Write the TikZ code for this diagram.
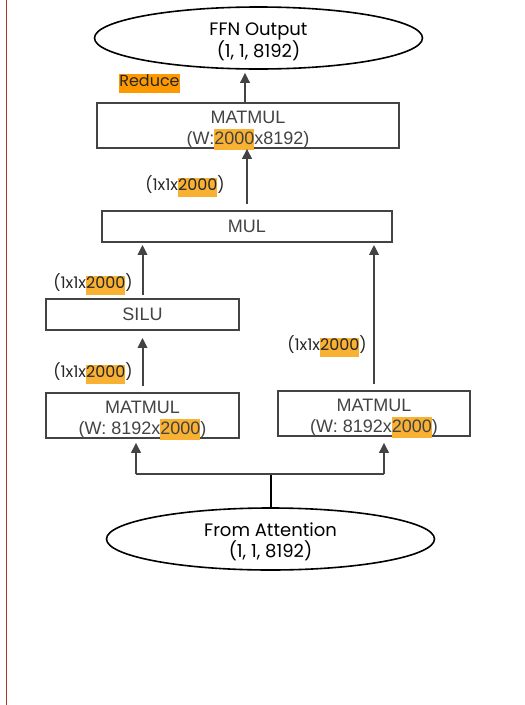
\documentclass[tikz,border=0pt]{standalone}
\usepackage{fontspec}
\setmainfont{Liberation Sans}
\newfontfamily\geofont{Poppins}
\usetikzlibrary{shapes.geometric,arrows.meta}
\definecolor{boxgray}{HTML}{434343}
\definecolor{hlorange}{HTML}{F8B133}
\definecolor{redorange}{HTML}{FF9900}
\definecolor{marginred}{HTML}{A8382C}
% highlighted number: coloured strip that does not change the line's height
\newcommand{\hlnum}[1]{\smash{\setlength{\fboxsep}{0pt}\colorbox{hlorange}{\strut #1}}}
% extra head room above the first line of a two-line operator box
\newcommand{\headroom}{\rule{0pt}{20pt}}
\tikzset{
  x=1pt, y=-1pt,
  opbox/.style={draw=boxgray, line width=1.8pt, rectangle, inner sep=0pt,
    align=center, text=boxgray, font=\fontsize{18}{21}\selectfont},
  tensor/.style={draw=black, line width=1.6pt, ellipse, inner sep=0pt,
    minimum width=328pt, minimum height=62pt},
  tensortext/.style={inner sep=0pt, align=center,
    font=\geofont\fontsize{18}{21}\selectfont},
  dimlabel/.style={inner sep=0pt, text=black!85, font=\geofont\fontsize{16}{19}\selectfont},
  arr/.style={draw=boxgray, line width=2pt, -{Triangle[length=10pt,width=9.5pt]}},
  feed/.style={draw=boxgray, line width=2pt},
}
\begin{document}
\begin{tikzpicture}
\useasboundingbox (0,0) rectangle (525,705);
\fill[white] (0,0) rectangle (525,705);
% margin rule
\draw[marginred, line width=1.6pt] (6.5,0) -- (6.5,705);

% tensors
\node[tensor] (top) at (258.5,38) {};
\node[tensortext] (toptext) at ([yshift=-4pt]top.center) {FFN Output\\(1, 1, 8192)};
\node[tensor] (bot) at (270.5,539) {};
\node[tensortext] (bottext) at ([yshift=-3pt]bot.center) {From Attention\\(1, 1, 8192)};

% operators
\node[opbox, minimum width=302pt, minimum height=43pt] (tm) at (248,125.5)
  {\headroom MATMUL\\(W:\hlnum{2000}x8192)};
\node[opbox, minimum width=290pt, minimum height=31pt] (mul) at (247,226.5) {MUL};
\node[opbox, minimum width=193pt, minimum height=31pt] (silu) at (142.5,314.5) {SILU};
\node[opbox, minimum width=193pt, minimum height=43pt] (lm) at (142.5,415.5)
  {\headroom MATMUL\\(W: 8192x\hlnum{2000})};
\node[opbox, minimum width=192pt, minimum height=43pt] (rm) at (374,413.5)
  {\headroom MATMUL\\(W: 8192x\hlnum{2000})};

% labels
\node[dimlabel] (red) at (149.5,83)
  {{\setlength{\fboxsep}{0pt}\colorbox{redorange}{\strut Reduce}}};
\node[dimlabel] (l1) at (185,185) {(1x1x\hlnum{2000})};
\node[dimlabel] (l2) at (93,283) {(1x1x\hlnum{2000})};
\node[dimlabel] (l3) at (93,372) {(1x1x\hlnum{2000})};
\node[dimlabel] (l4) at (327,345) {(1x1x\hlnum{2000})};

% data flow
\draw[arr, shorten >=3pt] ([xshift=-3pt]tm.north) -- ([xshift=-3pt]tm.north |- top.south);
\draw[arr, shorten <=6pt] (mul.north) -- (mul.north |- tm.south);
\draw[arr, shorten <=3pt, shorten >=2pt] (silu.north) -- (silu.north |- mul.south);
\draw[arr, shorten <=6pt, shorten >=7pt] (lm.north) -- (lm.north |- silu.south);
\draw[arr, shorten <=6pt, shorten >=2pt] (rm.north) -- (rm.north |- mul.south);

\coordinate (j) at (271,474);
\coordinate (jl) at (136,474);
\coordinate (jr) at (384,474);
\draw[black, line width=1.7pt] (bot.north -| j) -- (j);
\draw[feed] (jl) -- (jr);
\draw[arr, shorten >=4pt] (jl) -- (jl |- lm.south);
\draw[arr, shorten >=6pt] (jr) -- (jr |- rm.south);
\end{tikzpicture}
\end{document}
